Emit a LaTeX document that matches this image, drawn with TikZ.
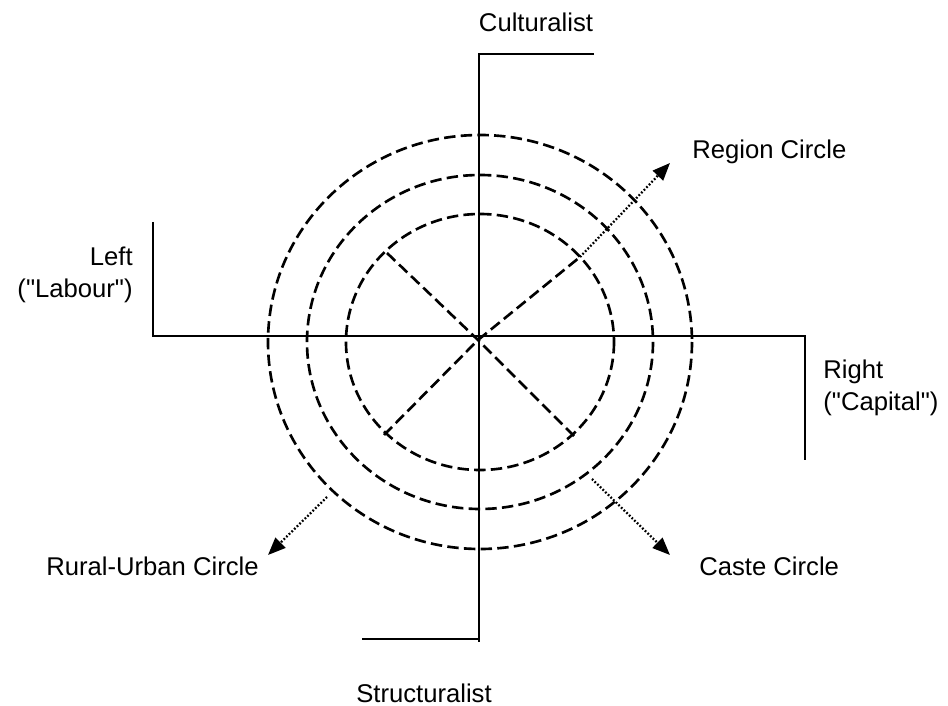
\documentclass[tikz,border=0pt]{standalone}
\usepackage{fontspec}
\setmainfont{Liberation Sans}[Ligatures=TeXOff]
\usetikzlibrary{arrows.meta}
\begin{document}
\begin{tikzpicture}[x=0.02cm,y=-0.02cm,
 lbl/.style={inner sep=0pt,font=\fontsize{14.6}{18}\selectfont},
 axis/.style={line width=1.4pt},
 ring/.style={line width=1.5pt,dash pattern=on 6.5pt off 3pt},
 pointer/.style={line width=1.3pt,dash pattern=on 1pt off 1.1pt,
                 -{Triangle[length=10pt,width=8pt]}}]
\useasboundingbox (0,0) rectangle (948,706);
% axes
\coordinate (top) at (479,54);   \coordinate (topbar) at (594,54);
\coordinate (bot) at (479,642);  \coordinate (botbar) at (362,639);
\coordinate (west) at (153,336); \coordinate (westbar) at (153,222);
\coordinate (east) at (805,336); \coordinate (eastbar) at (805,460);
\draw[axis] (topbar)--(top)--(bot);
\draw[axis] (botbar)--(479,639);
\draw[axis] (westbar)--(west)--(east)--(eastbar);
% circles
\coordinate (c) at (480,342);
\draw[ring] (c) ellipse [x radius=212,y radius=207];
\draw[ring] (c) ellipse [x radius=173,y radius=167];
\draw[ring] (c) ellipse [x radius=134,y radius=128];
\coordinate (x) at (478,340);
\coordinate (nw) at (387,253); \coordinate (ne) at (580,257);
\coordinate (sw) at (384,435); \coordinate (se) at (574,436);
\draw[ring] (nw)--(x)--(se);
\draw[ring] (sw)--(x)--(ne);
% labels
\node[lbl] (cult) at (536,22) {Culturalist};
\node[lbl] (struct) at (424,693) {Structuralist};
\node[lbl,align=right,anchor=east] (left) at (133,275) {Left\\("Labour")};
\node[lbl,align=left,anchor=west] (right) at (823,388) {Right\\("Capital")};
\node[lbl,anchor=west] (region) at (692,152) {Region Circle};
\node[lbl,anchor=east] (rural) at (259,566) {Rural-Urban Circle};
\node[lbl,anchor=west] (caste) at (699,566) {Caste Circle};
% pointers
\coordinate (regtip) at (670,163);
\coordinate (rurtail) at (327,497); \coordinate (rurtip) at (268,555);
\coordinate (castail) at (592,479); \coordinate (castip) at (670,555);
\draw[pointer] (ne)--(regtip);
\draw[pointer] (rurtail)--(rurtip);
\draw[pointer] (castail)--(castip);
\end{tikzpicture}
\end{document}
